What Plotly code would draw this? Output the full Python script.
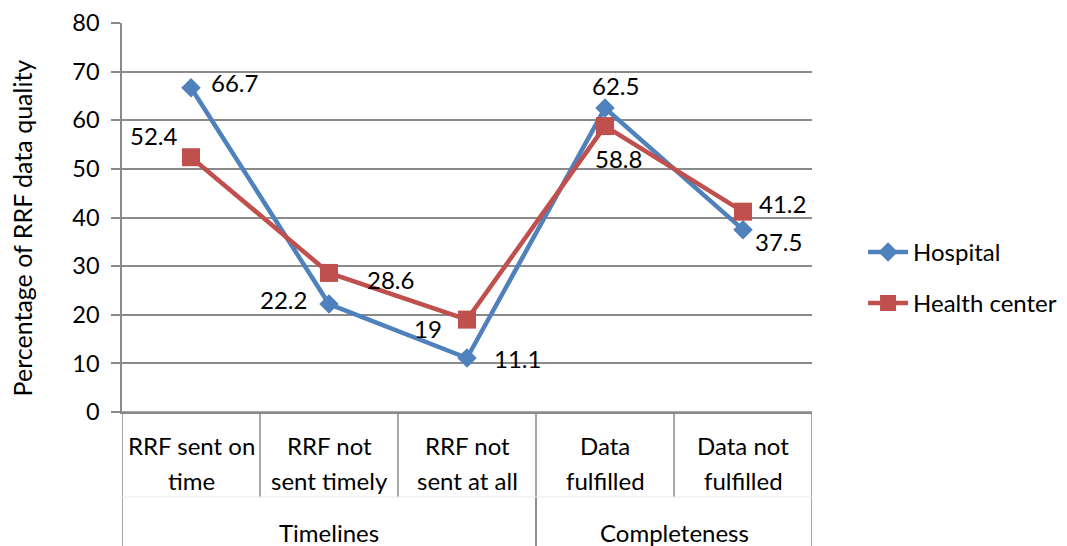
import plotly.graph_objects as go

categories = ["RRF sent on\ntime", "RRF not\nsent timely", "RRF not\nsent at all", "Data\nfulfilled", "Data not\nfulfilled"]
groups = ["Timelines", "Completeness"]
group_spans = [(0, 2), (3, 4)]
hospital = [66.7, 22.2, 11.1, 62.5, 37.5]
health_center = [52.4, 28.6, 19, 58.8, 41.2]

# label offsets (pixels) for data labels
hosp_shift = [(43, 5), (-46, 5), (50, 0), (10, 23), (35, -12)]
hc_shift = [(-37, 22), (61, -7), (-39, -9), (13, -32), (39, 8)]

FONT = "Lato, Open Sans, sans-serif"
GRID = "#8a8a8a"
BLUE = "#4F81BD"
RED = "#C0504D"
xs = list(range(len(categories)))

fig = go.Figure()
fig.add_trace(go.Scatter(x=xs, y=hospital, name="Hospital", mode="lines+markers",
                         legendgroup="a",
                         line=dict(color=BLUE, width=4.5),
                         marker=dict(symbol="diamond", size=15, color=BLUE)))
fig.add_trace(go.Scatter(x=xs, y=health_center, name="Health center", mode="lines+markers",
                         legendgroup="b",
                         line=dict(color=RED, width=4.5),
                         marker=dict(symbol="square", size=18, color=RED)))

ann = []
for i, v in enumerate(hospital):
    ann.append(dict(x=xs[i], y=v, xref="x", yref="y", text=str(v), showarrow=False,
                    xshift=hosp_shift[i][0], yshift=hosp_shift[i][1],
                    font=dict(size=24, color="black", family=FONT)))
for i, v in enumerate(health_center):
    ann.append(dict(x=xs[i], y=v, xref="x", yref="y", text=str(v), showarrow=False,
                    xshift=hc_shift[i][0], yshift=hc_shift[i][1],
                    font=dict(size=24, color="black", family=FONT)))
line_y = [-0.087, -0.175]
for i, c in enumerate(categories):
    for j, part in enumerate(c.split("\n")):
        ann.append(dict(x=xs[i], y=line_y[j], xref="x", yref="paper", text=part, showarrow=False,
                        yanchor="middle", font=dict(size=24, color="black", family=FONT)))
for g, (a, b) in zip(groups, group_spans):
    ann.append(dict(x=(a + b) / 2, y=-0.311, xref="x", yref="paper", text=g, showarrow=False,
                    yanchor="middle", font=dict(size=24, color="black", family=FONT)))
# y axis title
ann.append(dict(x=-0.1449, y=0.472, xref="paper", yref="paper", text="Percentage of RRF data quality",
                textangle=-90, showarrow=False, xanchor="center", yanchor="middle",
                font=dict(size=25, color="black", family=FONT)))

shapes = []
for i in range(len(categories) + 1):
    shapes.append(dict(type="line", xref="x", yref="paper", x0=i - 0.5, x1=i - 0.5,
                       y0=0, y1=-0.2185, line=dict(color=GRID, width=1.5)))
for a, b in group_spans:
    for xv in (a - 0.5, b + 0.5):
        shapes.append(dict(type="line", xref="x", yref="paper", x0=xv, x1=xv,
                           y0=-0.2185, y1=-0.36, line=dict(color=GRID, width=1.5)))
shapes.append(dict(type="line", xref="x", yref="paper", x0=-0.5, x1=4.5,
                   y0=-0.2185, y1=-0.2185, line=dict(color="#ebebeb", width=1)))
shapes.append(dict(type="line", xref="paper", yref="y", x0=-0.0145, x1=1, y0=0, y1=0,
                   line=dict(color=GRID, width=1.5)))

fig.update_layout(
    width=1059, height=538,
    margin=dict(l=114, r=255, t=15, b=134, autoexpand=False),
    plot_bgcolor="white", paper_bgcolor="white",
    font=dict(family=FONT, size=24, color="black"),
    annotations=ann, shapes=shapes,
    legend=dict(x=1.074, y=0.345, xanchor="left", yanchor="middle",
                font=dict(size=24, family=FONT, color="black"), tracegroupgap=17, itemwidth=40),
)
fig.update_xaxes(range=[-0.5, 4.5], showticklabels=False, showgrid=False, zeroline=False,
                 showline=True, linecolor=GRID, linewidth=1.5, ticks="")
fig.update_yaxes(range=[0, 80], dtick=10, showgrid=True, gridcolor=GRID, gridwidth=1.5,
                 zeroline=False, showline=True, linecolor=GRID, linewidth=1.5,
                 ticks="outside", ticklen=9, tickcolor=GRID, tickwidth=1.5,
                 ticklabelstandoff=7,
                 tickfont=dict(size=23.5, family=FONT, color="black"))

fig.write_html("out.html")
